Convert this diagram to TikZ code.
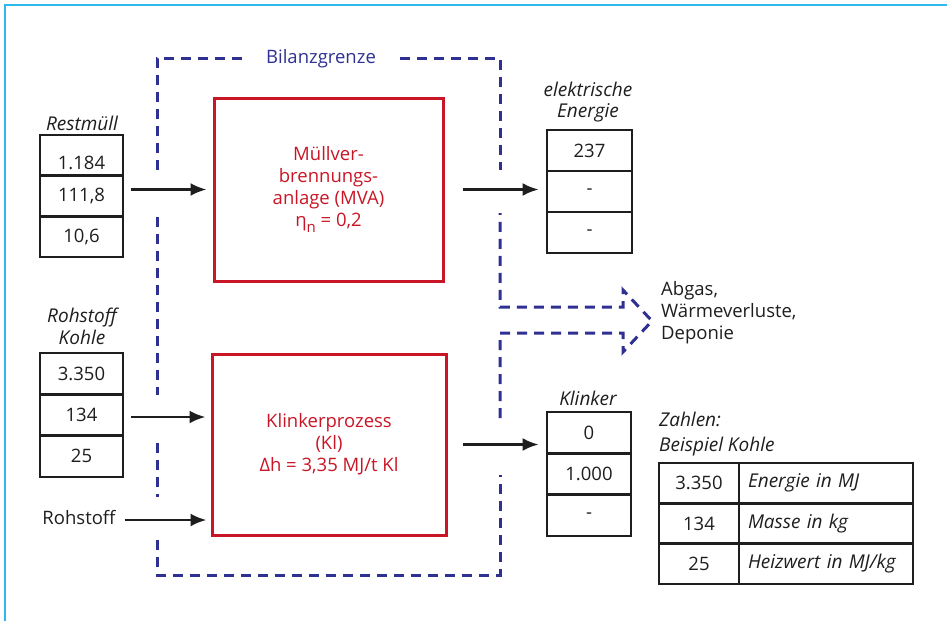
\documentclass[tikz,border=0pt]{standalone}
\usepackage{fontspec}
\setmainfont{Open Sans}
\usetikzlibrary{arrows.meta}
\definecolor{bnavy}{RGB}{46,49,146}
\definecolor{bred}{RGB}{200,22,38}
\definecolor{bcyan}{RGB}{45,185,235}
\definecolor{bblack}{RGB}{30,30,30}
\tikzset{
  txt/.style={font=\fontsize{18.5}{22}\selectfont, text=bblack, inner sep=0pt},
  itxt/.style={txt, font=\fontsize{19}{22}\selectfont\itshape},
  cell/.style={draw=bblack, line width=2.8pt, inner sep=0pt, font=\fontsize{18.5}{22}\selectfont, text=bblack},
  procbox/.style={draw=bred, line width=3pt, inner sep=0pt, text=bred, align=center, font=\fontsize{18.5}{22}\selectfont},
  arr/.style={draw=bblack, line width=2.6pt, -{Latex[length=16pt,width=13pt]}},
  bound/.style={draw=bnavy, line width=3pt, dash pattern=on 10pt off 7pt},
}
\begin{document}
\begin{tikzpicture}[x=1pt,y=-1pt]
\useasboundingbox (0,0) rectangle (947,621);
% frame
\draw[bcyan, line width=2pt] (5,621) -- (5,5) -- (947,5);

% Bilanzgrenze
\node[txt, text=bnavy] (bg) at (321,59) {Bilanzgrenze};
\draw[bound] (157,170) -- (157,58) -- (242,58);
\draw[bound] (400,58) -- (500,58) -- (500,170);
\draw[bound] (157,217) -- (157,395);
\draw[bound] (157,443) -- (157,497);
\draw[bound] (157,540) -- (157,575) -- (500,575) -- (500,475);
\draw[bound] (500,418) -- (500,333) -- (623,333) -- (623,352) -- (652,321) -- (623,290) -- (623,307) -- (500,307) -- (500,213);

% process boxes
\node[procbox, minimum width=229pt, minimum height=183pt] (mva) at (328.5,189.5)
  {Müllver-\\brennungs-\\anlage (MVA)\\η\raisebox{-0.3em}{\fontsize{15}{15}\selectfont n} = 0,2};
\node[procbox, minimum width=234pt, minimum height=181pt] (kl) at (329,444.5)
  {Klinkerprozess\\(Kl)\\Δh = 3,35 MJ/t Kl};

% Restmuell table
\node[itxt] (rmlab) at (82,123) {Restmüll};
\node[cell, minimum width=83pt, minimum height=40.7pt] (rm1) at (81.5,155.3) {};
\node[txt] (rm1t) at (81.5,163) {1.184};
\node[cell, minimum width=83pt, minimum height=40.7pt] (rm2) at (81.5,196) {111,8};
\node[cell, minimum width=83pt, minimum height=40.7pt] (rm3) at (81.5,236.7) {10,6};

% Rohstoff Kohle table
\node[itxt, align=center] (rklab) at (82,326) {Rohstoff\\Kohle};
\node[cell, minimum width=83pt, minimum height=41.3pt] (rk1) at (81.5,373.7) {3.350};
\node[cell, minimum width=83pt, minimum height=41.3pt] (rk2) at (81.5,415) {134};
\node[cell, minimum width=83pt, minimum height=41.3pt] (rk3) at (81.5,456.3) {25};

% Rohstoff
\node[txt] (rs) at (79,518) {Rohstoff};

% elektrische Energie table
\node[itxt, align=center, font=\fontsize{19}{21}\selectfont\itshape] (ellab) at (588,102) {elektrische\\Energie};
\node[cell, minimum width=85pt, minimum height=41pt] (el1) at (589.5,150.5) {237};
\node[cell, minimum width=85pt, minimum height=41pt] (el2) at (589.5,191.5) {-};
\node[cell, minimum width=85pt, minimum height=41pt] (el3) at (589.5,232.5) {-};

% Klinker table
\node[itxt] (kklab) at (588,398) {Klinker};
\node[cell, minimum width=84pt, minimum height=41.3pt] (kk1) at (589,432.7) {0};
\node[cell, minimum width=84pt, minimum height=41.3pt] (kk2) at (589,474) {1.000};
\node[cell, minimum width=84pt, minimum height=41.3pt] (kk3) at (589,515.3) {-};

% Abgas
\node[txt, align=left, anchor=west] (ab) at (661,313) {Abgas,\\Wärmeverluste,\\Deponie};

% legend
\node[itxt, align=left, anchor=west, font=\fontsize{19}{25}\selectfont\itshape] (zl) at (659,434.5) {Zahlen:\\Beispiel Kohle};
\node[cell, minimum width=80pt, minimum height=40.3pt] (lg1a) at (699,483.2) {3.350};
\node[cell, minimum width=80pt, minimum height=40.3pt] (lg2a) at (699,523.5) {134};
\node[cell, minimum width=80pt, minimum height=40.3pt] (lg3a) at (699,563.8) {25};
\tikzset{lcell/.style={cell, minimum height=40.3pt, text width=156pt, inner xsep=9pt, align=left, font=\fontsize{19}{22}\selectfont\itshape}}
\node[lcell] (lg1b) at (826,483.2) {Energie in MJ};
\node[lcell] (lg2b) at (826,523.5) {Masse in kg};
\node[lcell] (lg3b) at (826,563.8) {Heizwert in MJ/kg};

% arrows
\draw[arr] ([xshift=7pt]rm2.east |- mva.west) -- ([xshift=-6pt]mva.west);
\draw[arr] ([xshift=7pt]rk2.east |- 0,417) -- ([xshift=-5pt]kl.west |- 0,417);
\draw[arr] ([xshift=9pt]rs.east |- 0,520) -- ([xshift=-4pt]kl.west |- 0,520);
\draw[arr] ([xshift=18pt]mva.east) -- ([xshift=-7pt]el2.west |- mva.east);
\draw[arr] ([xshift=15pt]kl.east) -- ([xshift=-7pt]kk1.west |- kl.east);
\end{tikzpicture}
\end{document}
